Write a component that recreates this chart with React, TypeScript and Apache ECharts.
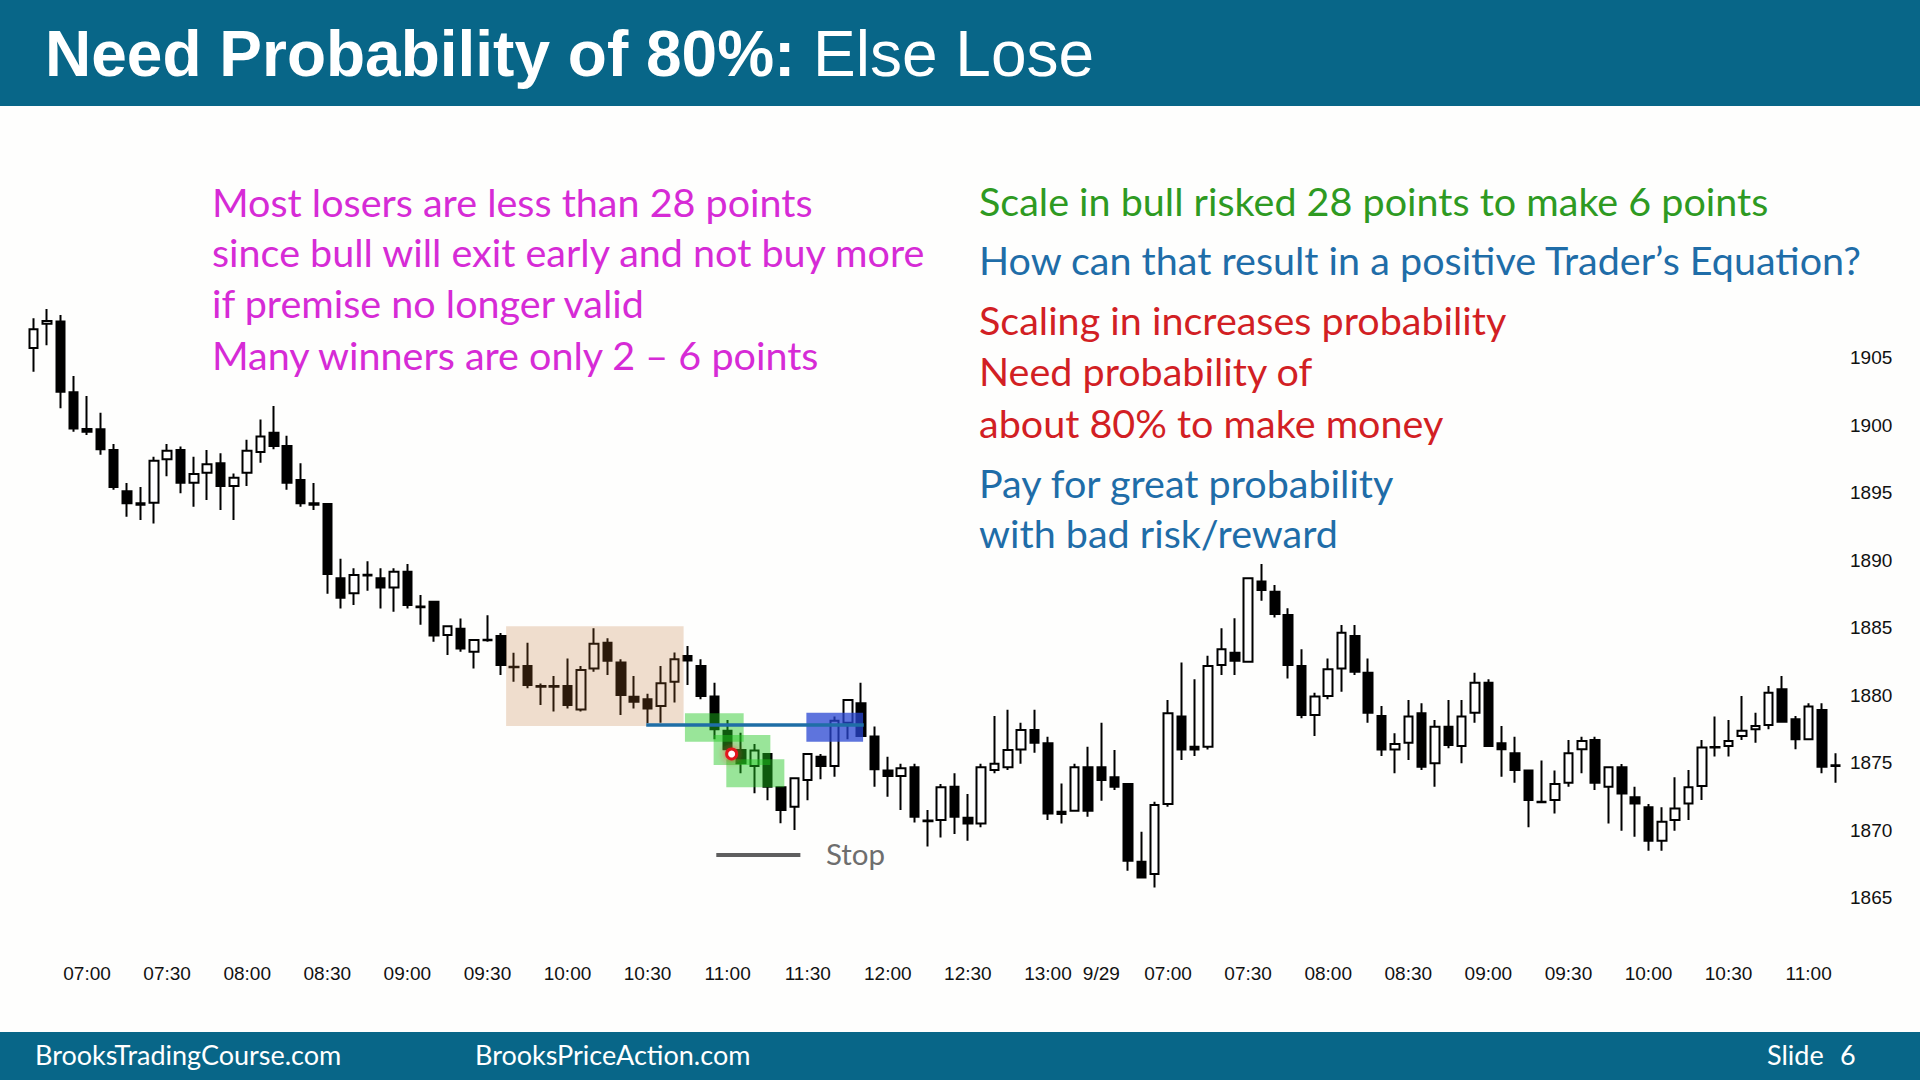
import React, { useEffect, useRef } from 'react';
import * as echarts from 'echarts';

// ---- Data -------------------------------------------------------------
// Each bar: [open, close, low, high]  (5-minute ES bars)
const DAY1_LABEL = '9/26';
const DAY2_LABEL = '9/29';
const DAY1_START_MIN = 6 * 60 + 40; // first bar 06:40
const DAY2_START_MIN = 6 * 60 + 35; // first bar 06:35

const DAY1_OHLC: number[][] = [
  [1905.7, 1907.1, 1903.95, 1907.9],
  [1907.5, 1907.7, 1905.9, 1908.6],
  [1907.66, 1902.47, 1901.24, 1908.15],
  [1902.42, 1899.75, 1899.5, 1903.63],
  [1899.7, 1899.5, 1899.26, 1902.15],
  [1899.68, 1898.2, 1897.8, 1900.9],
  [1898.15, 1895.4, 1895.2, 1898.6],
  [1895.1, 1894.2, 1893.2, 1895.7],
  [1894.1, 1894.2, 1892.96, 1895.4],
  [1894.25, 1897.36, 1892.7, 1897.65],
  [1897.46, 1898.1, 1896.2, 1898.6],
  [1898.15, 1895.73, 1894.94, 1898.4],
  [1895.73, 1896.37, 1893.95, 1897.65],
  [1896.47, 1897.1, 1894.45, 1898.15],
  [1897.16, 1895.48, 1893.7, 1897.9],
  [1895.48, 1896.1, 1892.96, 1896.4],
  [1896.47, 1898.1, 1895.48, 1898.9],
  [1898.0, 1899.14, 1897.2, 1900.4],
  [1899.43, 1898.45, 1898.2, 1901.4],
  [1898.45, 1895.73, 1895.2, 1899.2],
  [1895.93, 1894.2, 1893.95, 1897.16],
  [1894.2, 1894.1, 1893.7, 1895.7],
  [1894.15, 1888.96, 1887.5, 1894.2],
  [1888.64, 1887.2, 1886.4, 1890.1],
  [1887.53, 1888.89, 1886.66, 1889.38],
  [1888.9, 1888.85, 1887.73, 1889.9],
  [1888.64, 1887.97, 1886.4, 1889.38],
  [1887.97, 1889.13, 1886.17, 1889.38],
  [1889.13, 1886.66, 1886.4, 1889.7],
  [1886.55, 1886.5, 1885.2, 1887.4],
  [1886.9, 1884.4, 1883.95, 1886.9],
  [1884.44, 1885.1, 1882.96, 1885.1],
  [1884.9, 1883.45, 1883.2, 1885.67],
  [1883.2, 1884.07, 1881.97, 1884.07],
  [1884.1, 1884.05, 1883.95, 1885.9],
  [1884.37, 1882.22, 1881.48, 1884.6],
  [1882.1, 1882.05, 1880.98, 1883.13],
  [1882.15, 1880.74, 1880.5, 1883.87],
  [1880.67, 1880.62, 1879.26, 1880.86],
  [1880.67, 1880.62, 1878.77, 1881.4],
  [1880.67, 1879.26, 1879.0, 1882.7],
  [1878.93, 1881.85, 1878.77, 1882.15],
  [1881.97, 1883.8, 1881.73, 1884.94],
  [1883.87, 1882.54, 1881.48, 1884.2],
  [1882.4, 1880.0, 1878.52, 1882.64],
  [1879.87, 1879.5, 1879.0, 1881.4],
  [1879.68, 1879.0, 1877.9, 1880.1],
  [1879.19, 1880.87, 1877.95, 1882.15],
  [1880.99, 1882.64, 1879.44, 1883.14],
  [1882.89, 1882.55, 1880.74, 1883.63],
  [1882.15, 1879.93, 1879.68, 1882.64],
  [1879.88, 1877.46, 1876.72, 1880.9],
  [1877.36, 1875.98, 1875.68, 1878.15],
  [1875.93, 1874.94, 1874.2, 1877.2],
  [1874.74, 1875.88, 1872.72, 1876.37],
  [1875.63, 1873.2, 1872.2, 1875.63],
  [1873.16, 1871.48, 1870.5, 1873.16],
  [1871.73, 1873.83, 1870.0, 1873.83],
  [1873.7, 1875.63, 1872.2, 1875.63],
  [1875.43, 1874.74, 1873.76, 1875.63],
  [1874.74, 1878.1, 1873.95, 1878.4],
  [1877.95, 1879.63, 1876.72, 1879.63],
  [1879.39, 1876.97, 1876.9, 1880.9],
  [1876.92, 1874.5, 1873.2, 1877.66],
  [1874.4, 1874.0, 1872.47, 1875.43],
  [1874.0, 1874.57, 1871.48, 1874.9],
  [1874.65, 1870.99, 1870.55, 1874.9],
  [1870.7, 1870.65, 1868.77, 1871.48],
  [1870.74, 1873.16, 1869.45, 1873.4],
  [1873.2, 1870.99, 1869.7, 1874.2],
  [1870.9, 1870.49, 1869.2, 1872.66],
  [1870.49, 1874.64, 1870.2, 1874.9],
  [1874.44, 1874.9, 1874.2, 1878.44],
  [1874.64, 1875.92, 1874.44, 1878.9],
  [1875.97, 1877.4, 1874.9, 1877.95],
  [1877.4, 1876.47, 1875.72, 1878.9],
  [1876.42, 1871.23, 1870.74, 1876.9],
  [1871.35, 1871.18, 1870.49, 1873.45],
  [1871.43, 1874.64, 1871.43, 1874.9],
  [1874.64, 1871.43, 1870.99, 1876.17],
];

const DAY2_OHLC: number[][] = [
  [1874.64, 1873.7, 1872.17, 1877.95],
  [1873.9, 1873.2, 1872.96, 1875.92],
  [1873.4, 1867.72, 1866.98, 1873.4],
  [1867.65, 1866.49, 1866.49, 1869.87],
  [1866.74, 1871.85, 1865.75, 1872.1],
  [1871.92, 1878.64, 1871.73, 1879.63],
  [1878.4, 1875.97, 1875.18, 1882.4],
  [1876.17, 1875.97, 1875.48, 1881.16],
  [1876.17, 1882.15, 1875.97, 1882.9],
  [1882.22, 1883.38, 1881.48, 1884.94],
  [1883.13, 1882.54, 1881.48, 1885.68],
  [1882.47, 1888.64, 1882.47, 1888.64],
  [1888.4, 1887.78, 1886.99, 1889.7],
  [1887.65, 1886.0, 1885.75, 1888.15],
  [1885.92, 1882.22, 1881.23, 1886.42],
  [1882.15, 1878.52, 1878.27, 1883.38],
  [1878.52, 1879.88, 1876.96, 1880.17],
  [1879.93, 1881.9, 1879.68, 1882.71],
  [1881.97, 1884.62, 1880.25, 1885.18],
  [1884.37, 1881.73, 1881.48, 1885.18],
  [1881.65, 1878.69, 1877.95, 1882.71],
  [1878.44, 1875.97, 1875.48, 1879.18],
  [1875.97, 1876.37, 1874.2, 1877.16],
  [1876.47, 1878.4, 1875.18, 1879.63],
  [1878.64, 1874.69, 1874.44, 1879.38],
  [1874.94, 1877.65, 1873.21, 1878.15],
  [1877.65, 1876.3, 1876.05, 1879.63],
  [1876.22, 1878.4, 1874.94, 1879.63],
  [1878.69, 1880.91, 1877.95, 1881.65],
  [1880.91, 1876.22, 1876.22, 1881.16],
  [1876.42, 1875.98, 1873.95, 1877.7],
  [1875.68, 1874.44, 1873.5, 1876.91],
  [1874.4, 1872.22, 1870.2, 1874.4],
  [1872.1, 1872.05, 1871.98, 1875.14],
  [1872.22, 1873.4, 1871.23, 1874.4],
  [1873.5, 1875.68, 1873.2, 1876.67],
  [1875.98, 1876.6, 1874.2, 1876.91],
  [1876.67, 1873.5, 1872.96, 1876.91],
  [1873.2, 1874.64, 1870.49, 1874.64],
  [1874.64, 1872.71, 1869.95, 1874.89],
  [1872.42, 1871.97, 1869.5, 1873.2],
  [1871.68, 1869.21, 1868.47, 1871.92],
  [1869.21, 1870.62, 1868.47, 1871.68],
  [1870.74, 1871.6, 1869.95, 1873.9],
  [1871.97, 1873.16, 1870.74, 1874.44],
  [1873.26, 1876.12, 1872.22, 1876.67],
  [1876.12, 1876.15, 1875.45, 1878.4],
  [1876.22, 1876.6, 1875.45, 1878.15],
  [1876.96, 1877.36, 1876.67, 1879.93],
  [1877.46, 1877.7, 1876.47, 1878.69],
  [1877.78, 1880.17, 1877.46, 1880.67],
  [1880.42, 1878.02, 1878.02, 1881.4],
  [1878.2, 1876.72, 1875.98, 1878.44],
  [1876.72, 1879.14, 1876.67, 1879.38],
  [1878.89, 1874.69, 1874.2, 1879.38],
  [1874.8, 1874.75, 1873.5, 1875.68],
];

// Y ticks
const Y_MIN = 1865;
const Y_MAX = 1910;
const Y_STEP = 5;
const Y_LAST_LABEL = 1905;

// Annotations in data coordinates (bar index, price)
const RANGE_BOX = [35.4, 48.7, 1877.7, 1885.1];
const SCALE_IN_BOXES = [
  [48.8, 53.2, 1876.54, 1878.64],
  [50.95, 55.2, 1874.81, 1877.04],
  [51.9, 56.25, 1873.16, 1875.24],
];
const TARGET_BOX = [57.9, 62.15, 1876.54, 1878.69];
const ENTRY_LINE = [45.9, 62.2, 1877.78];
const STOP_LINE = [51.15, 57.45, 1868.15];
const ENTRY_MARK = [52.3, 1875.63];

// Texts
const TITLE_BOLD = 'Need Probability of 80%:';
const TITLE_REGULAR = 'Else Lose';
const LEFT_NOTES = [
  'Most losers are less than 28 points',
  'since bull will exit early and not buy more',
  'if premise no longer valid',
  'Many winners are only 2 \u2013 6 points',
];
const RIGHT_NOTES: [string, string][] = [
  ['Scale in bull risked 28 points to make 6 points', 'green'],
  ['How can that result in a positive Trader\u2019s Equation?', 'blue'],
  ['Scaling in increases probability', 'red'],
  ['Need probability of', 'red'],
  ['about 80% to make money', 'red'],
  ['Pay for great probability', 'blue'],
  ['with bad risk/reward', 'blue'],
];
const STOP_TEXT = 'Stop';
const FOOTER_LEFT = 'BrooksTradingCourse.com';
const FOOTER_MID = 'BrooksPriceAction.com';
const FOOTER_SLIDE = 'Slide';
const FOOTER_NUM = '6';

// ---- Helpers -----------------------------------------------------------
const pad = (n: number) => (n < 10 ? '0' + n : String(n));
const hhmm = (m: number) => pad(Math.floor(m / 60)) + ':' + pad(m % 60);

const CATEGORIES: string[] = [
  ...DAY1_OHLC.map((_, i) => DAY1_LABEL + ' ' + hhmm(DAY1_START_MIN + 5 * i)),
  ...DAY2_OHLC.map((_, i) => DAY2_LABEL + ' ' + hhmm(DAY2_START_MIN + 5 * i)),
];
const DAY2_INDEX = DAY1_OHLC.length;
const ALL_OHLC = [...DAY1_OHLC, ...DAY2_OHLC];
const N = ALL_OHLC.length;

const HEADER = '#086688';
const COLORS: Record<string, string> = {
  magenta: '#D62BD6',
  green: '#2E9A22',
  blue: '#1F6DA8',
  red: '#D21F24',
};
const RECT_FILLS = [
  'rgba(189,114,48,0.23)',
  'rgba(30,200,30,0.45)',
  'rgba(40,70,210,0.75)',
];

const NOTE_FONT = 'Lato';
const NOTE_SIZE = 39.5;
const LEFT_X = 212;
const RIGHT_X = 979;
const LEFT_Y = [201, 251, 302.5, 354];
const RIGHT_Y = [200, 259, 319, 370, 422, 482, 532.5];

function buildOption(): any {
  const graphics: any[] = [
    { type: 'rect', shape: { x: 0, y: 0, width: 1920, height: 106 }, style: { fill: HEADER }, silent: true },
    { type: 'rect', shape: { x: 0, y: 1032, width: 1920, height: 48 }, style: { fill: HEADER }, silent: true },
    {
      type: 'text', x: 45, y: 54, silent: true,
      style: { text: TITLE_BOLD, fill: '#ffffff', fontFamily: 'Liberation Sans, Arial', fontSize: 64, fontWeight: 'bold', verticalAlign: 'middle', align: 'left' },
    },
    {
      type: 'text', x: 813, y: 54, silent: true,
      style: { text: TITLE_REGULAR, fill: '#ffffff', fontFamily: 'Liberation Sans, Arial', fontSize: 64, fontWeight: 'normal', verticalAlign: 'middle', align: 'left' },
    },
  ];
  LEFT_NOTES.forEach((t, i) => {
    graphics.push({
      type: 'text', x: LEFT_X, y: LEFT_Y[i], silent: true,
      style: { text: t, fill: COLORS.magenta, fontFamily: NOTE_FONT, fontSize: NOTE_SIZE, verticalAlign: 'middle', align: 'left' },
    });
  });
  RIGHT_NOTES.forEach(([t, c], i) => {
    graphics.push({
      type: 'text', x: RIGHT_X, y: RIGHT_Y[i], silent: true,
      style: { text: t, fill: COLORS[c], fontFamily: NOTE_FONT, fontSize: NOTE_SIZE, verticalAlign: 'middle', align: 'left' },
    });
  });
  graphics.push({
    type: 'text', x: 826, y: 853, silent: true,
    style: { text: STOP_TEXT, fill: '#6E6E6E', fontFamily: NOTE_FONT, fontSize: 29.5, verticalAlign: 'middle', align: 'left' },
  });
  const footerStyle = { fill: '#ffffff', fontFamily: NOTE_FONT, fontSize: 27, verticalAlign: 'middle', align: 'left' };
  graphics.push({ type: 'text', x: 35, y: 1054, silent: true, style: { ...footerStyle, text: FOOTER_LEFT } });
  graphics.push({ type: 'text', x: 475, y: 1054, silent: true, style: { ...footerStyle, text: FOOTER_MID } });
  graphics.push({ type: 'text', x: 1767, y: 1054, silent: true, style: { ...footerStyle, text: FOOTER_SLIDE } });
  graphics.push({ type: 'text', x: 1840, y: 1054, silent: true, style: { ...footerStyle, text: FOOTER_NUM } });

  const rectData = [
    [...RANGE_BOX, 0],
    ...SCALE_IN_BOXES.map((b) => [...b, 1]),
    [...TARGET_BOX, 2],
  ];
  const lineData = [
    [ENTRY_LINE[0], ENTRY_LINE[1], ENTRY_LINE[2], 0],
    [STOP_LINE[0], STOP_LINE[1], STOP_LINE[2], 1],
  ];
  const LINE_STYLES = [
    { stroke: '#1F6EA6', lineWidth: 3.5 },
    { stroke: '#5F5F5F', lineWidth: 4 },
  ];

  return {
    animation: false,
    backgroundColor: '#FEFEFD',
    graphic: graphics,
    grid: { left: 27, right: 78, top: 290, bottom: 182.5, containLabel: false },
    xAxis: [
      {
        type: 'category',
        data: CATEGORIES,
        boundaryGap: true,
        axisLine: { show: false },
        axisTick: { show: false },
        splitLine: { show: false },
        axisLabel: {
          interval: (index: number, value: string) => {
            if (index === DAY2_INDEX) return true;
            const mm = value.slice(-2);
            return mm === '00' || mm === '30';
          },
          formatter: (value: string, index: number) => (index === DAY2_INDEX ? DAY2_LABEL : value.slice(-5)),
          margin: 66,
          fontFamily: 'Liberation Sans, Arial',
          fontSize: 19,
          color: '#111111',
          hideOverlap: false,
        },
      },
      { type: 'value', min: -0.5, max: N - 0.5, show: false },
    ],
    yAxis: {
      type: 'value',
      position: 'right',
      min: Y_MIN,
      max: Y_MAX,
      interval: Y_STEP,
      scale: true,
      axisLine: { show: false },
      axisTick: { show: false },
      splitLine: { show: false },
      axisLabel: {
        formatter: (v: number) => (v > Y_LAST_LABEL ? '' : String(v)),
        margin: 8,
        fontFamily: 'Liberation Sans, Arial',
        fontSize: 19,
        color: '#111111',
      },
    },
    series: [
      {
        type: 'candlestick',
        xAxisIndex: 0,
        yAxisIndex: 0,
        data: ALL_OHLC,
        barWidth: 9,
        z: 2,
        itemStyle: {
          color: '#ffffff',
          color0: '#000000',
          borderColor: '#000000',
          borderColor0: '#000000',
          borderWidth: 2,
        },
        silent: true,
      },
      {
        type: 'custom',
        xAxisIndex: 1,
        yAxisIndex: 0,
        z: 5,
        silent: true,
        clip: false,
        encode: { x: [0, 1], y: [2, 3] },
        data: rectData,
        renderItem: (params: any, api: any) => {
          const p0 = api.coord([api.value(0), api.value(3)]);
          const p1 = api.coord([api.value(1), api.value(2)]);
          return {
            type: 'rect',
            shape: { x: p0[0], y: p0[1], width: p1[0] - p0[0], height: p1[1] - p0[1] },
            style: { fill: RECT_FILLS[api.value(4)] },
          };
        },
      },
      {
        type: 'custom',
        xAxisIndex: 1,
        yAxisIndex: 0,
        z: 6,
        silent: true,
        clip: false,
        encode: { x: [0, 1], y: 2 },
        data: lineData,
        renderItem: (params: any, api: any) => {
          const p0 = api.coord([api.value(0), api.value(2)]);
          const p1 = api.coord([api.value(1), api.value(2)]);
          return {
            type: 'line',
            shape: { x1: p0[0], y1: p0[1], x2: p1[0], y2: p1[1] },
            style: { ...LINE_STYLES[api.value(3)] },
          };
        },
      },
      {
        type: 'scatter',
        xAxisIndex: 1,
        yAxisIndex: 0,
        z: 8,
        silent: true,
        data: [ENTRY_MARK],
        symbol: 'circle',
        symbolSize: 10,
        itemStyle: {
          color: '#ffffff',
          borderColor: '#E3151F',
          borderWidth: 3,
          shadowBlur: 8,
          shadowColor: 'rgba(255,40,40,0.8)',
          opacity: 1,
        },
      },
    ],
  };
}

export default function App() {
  const ref = useRef<HTMLDivElement>(null);
  useEffect(() => {
    if (!ref.current) return;
    const chart = echarts.init(ref.current, null, { renderer: 'svg' });
    chart.setOption(buildOption());
    return () => chart.dispose();
  }, []);
  return (
    <div
      ref={ref}
      style={{ position: 'fixed', left: 0, top: 0, width: 1920, height: 1080, background: '#FEFEFD' }}
    />
  );
}
